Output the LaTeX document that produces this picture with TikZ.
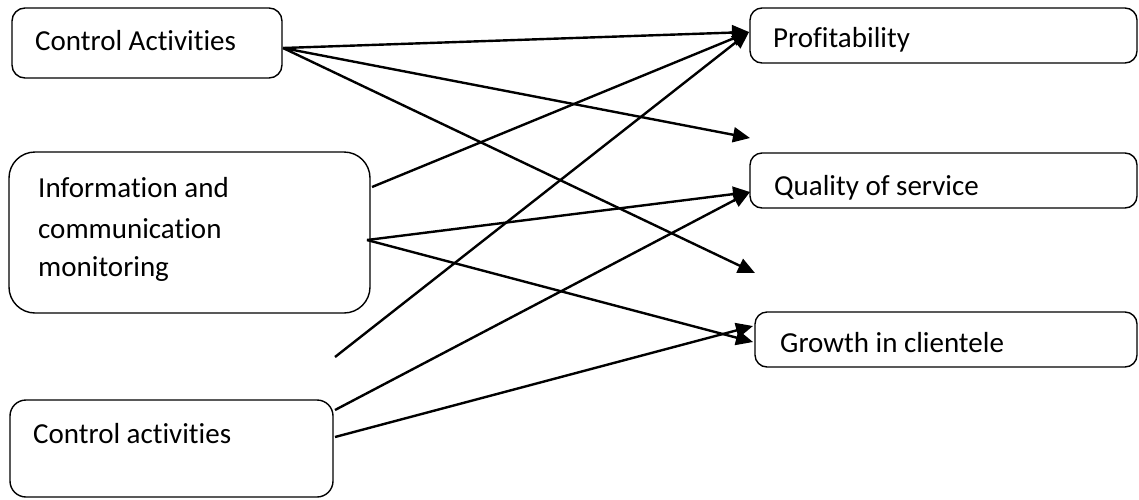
\documentclass[tikz,border=0pt]{standalone}
\usepackage{fontspec}
\setmainfont[Ligatures={NoCommon},RawFeature={-liga;-clig;-dlig}]{Carlito}
\usetikzlibrary{arrows.meta}
\begin{document}
\begin{tikzpicture}[x=1pt,y=-1pt,
  box/.style={draw=black, line width=1.4pt, rounded corners=#1, inner sep=0pt, outer sep=0pt},
  box/.default=12pt,
  txt/.style={anchor=base west, inner sep=0pt, font=\fontsize{29}{35}\selectfont},
  conn/.style={line width=2.4pt, -{Triangle[length=17pt,width=15pt]}},
  plain/.style={line width=2.4pt}]
\useasboundingbox (0,0) rectangle (1139,499);
% boxes
\node[box=13pt, minimum width=270pt, minimum height=70pt] (ca) at (147,43) {};
\node[box=26pt, minimum width=361pt, minimum height=161pt] (info) at (189.5,232.5) {};
\node[box=16pt, minimum width=323pt, minimum height=97pt] (cb) at (171.5,448.5) {};
\node[box=12pt, minimum width=387pt, minimum height=55pt] (prof) at (943.5,35.5) {};
\node[box=12pt, minimum width=387pt, minimum height=55pt] (qual) at (943.5,180.5) {};
\node[box=12pt, minimum width=382pt, minimum height=55pt] (grow) at (946,339.5) {};
% texts
\node[txt] (ca-t) at (35,50) {Control Activities};
\node[txt] (info-t1) at (38,197) {Information and};
\node[txt] (info-t2) at (38,238) {communication};
\node[txt] (info-t3) at (38,276) {monitoring};
\node[txt] (cb-t) at (33,443) {Control activities};
\node[txt] (prof-t) at (773,47) {Profitability};
\node[txt] (qual-t) at (774,195) {Quality of service};
\node[txt] (grow-t) at (780,352) {Growth in clientele};
% free ends
\coordinate (e1) at (750,138);
\coordinate (e2) at (755,273);
\coordinate (f1) at (335,357);
% connectors
\draw[conn] ([yshift=-5pt,xshift=1pt]ca.east) -- ([yshift=3.5pt,xshift=-1pt]prof.west);
\draw[conn] ([yshift=-5pt,xshift=1pt]ca.east) -- (e1);
\draw[conn] ([yshift=-5pt,xshift=1pt]ca.east) -- (e2);
\draw[conn] ([yshift=45.5pt,xshift=2pt]info.east) -- ([yshift=3.5pt,xshift=-1pt]prof.west);
\draw[conn] ([yshift=-7.5pt,xshift=-3pt]info.east) -- ([yshift=-11.5pt]qual.west);
\draw[conn] ([yshift=-7.5pt,xshift=-3pt]info.east) -- ([yshift=-2.5pt,xshift=-2pt]grow.west);
\draw[conn] (f1) -- ([yshift=3.5pt,xshift=-1pt]prof.west);
\draw[conn] ([yshift=38.5pt,xshift=2pt]cb.east) -- ([yshift=-11.5pt]qual.west);
\draw[conn] ([yshift=11.5pt,xshift=2pt]cb.east) -- ([yshift=13.5pt,xshift=-2pt]grow.west);
\end{tikzpicture}
\end{document}
